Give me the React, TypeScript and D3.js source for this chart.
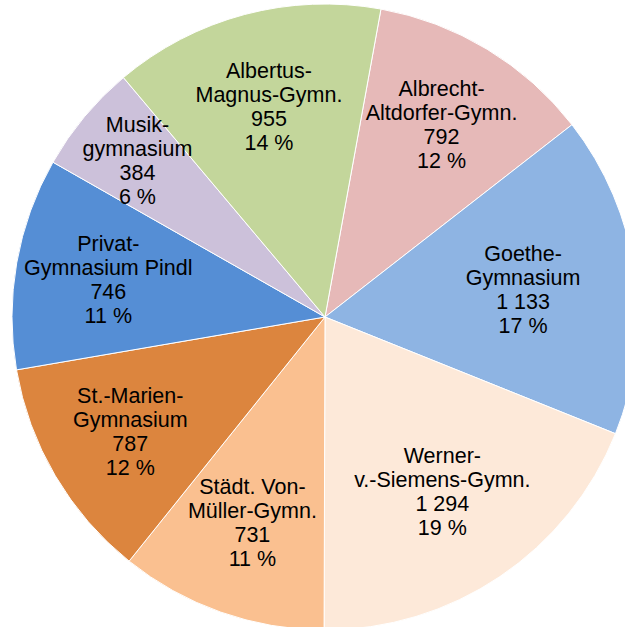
import * as d3 from "d3";

// Schulen, im Uhrzeigersinn ab oben
const schools: string[][] = [
  ["Albrecht-", "Altdorfer-Gymn."],
  ["Goethe-", "Gymnasium"],
  ["Werner-", "v.-Siemens-Gymn."],
  ["Städt. Von-", "Müller-Gymn."],
  ["St.-Marien-", "Gymnasium"],
  ["Privat-", "Gymnasium Pindl"],
  ["Musik-", "gymnasium"],
  ["Albertus-", "Magnus-Gymn."],
];
const students: number[] = [792, 1133, 1294, 731, 787, 746, 384, 955];
const colors: string[] = ["#E6B9B8", "#8EB4E3", "#FDE9D9", "#FAC090", "#DC853E", "#558ED5", "#CCC1DA", "#C3D69B"];

const W = 625;
const H = 627;
const cx = 325;
const cy = 317;
const radius = 313;
const startDeg = 10.3;
const labelR = 218;
// Beschriftungen wie im Original leicht versetzt
const labelNudge: Record<number, number> = { 0: 7, 1: -18, 2: -8, 4: 8, 5: 2, 6: 26 };
const fontSize = 21.5;
const lineH = 24;

const de = d3.formatLocale({ decimal: ",", thousands: " ", grouping: [3], currency: ["", " €"] });
const fmtNum = de.format(",d");

const App = () => {
  const total = d3.sum(students);
  const start = (startDeg * Math.PI) / 180;
  const pie = d3
    .pie<number>()
    .sort(null)
    .value((d) => d)
    .startAngle(start)
    .endAngle(start + 2 * Math.PI);
  const arcs = pie(students);
  const arc = d3.arc<d3.PieArcDatum<number>>().innerRadius(0).outerRadius(radius);

  return (
    <svg width={W} height={H} style={{ position: "absolute", left: 0, top: 0, background: "#fff" }}>
      <g transform={`translate(${cx},${cy})`}>
        {arcs.map((a, i) => (
          <path key={i} d={arc(a)!} fill={colors[i]} stroke="#fff" strokeWidth={1} />
        ))}
        {arcs.map((a, i) => {
          const r = labelR + (labelNudge[i] ?? 0);
          const [lx, ly] = d3.arc<d3.PieArcDatum<number>>().innerRadius(r).outerRadius(r).centroid(a);
          const lines = [...schools[i], fmtNum(students[i]), `${Math.round((students[i] / total) * 100)} %`];
          return (
            <text
              key={i}
              x={lx}
              y={ly}
              textAnchor="middle"
              fontFamily="'Liberation Sans', Arial, sans-serif"
              fontSize={fontSize}
              fill="#000"
            >
              {lines.map((t, j) => (
                <tspan key={j} x={lx} y={ly + (j - 1.5) * lineH + fontSize * 0.35}>
                  {t}
                </tspan>
              ))}
            </text>
          );
        })}
      </g>
    </svg>
  );
};

export default App;
